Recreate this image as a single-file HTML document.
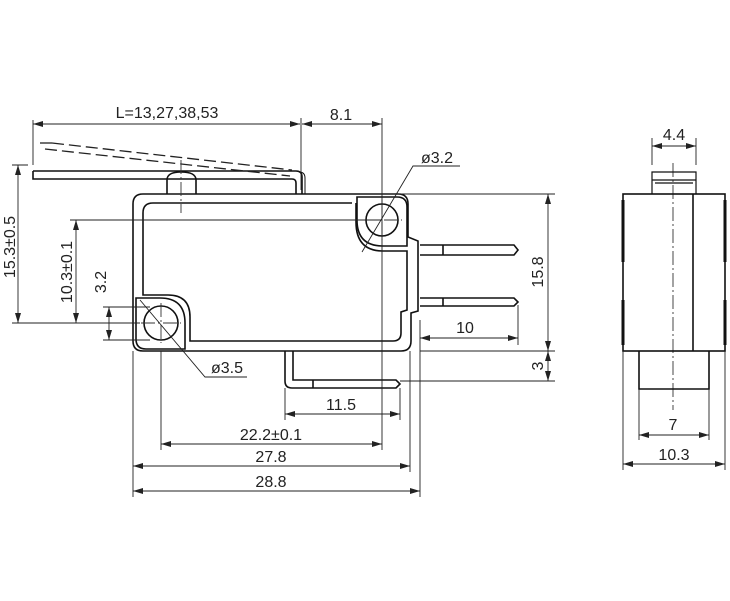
<!DOCTYPE html>
<html><head><meta charset="utf-8"><style>
html,body{margin:0;padding:0;background:#fff;}
svg{display:block;}
text{font-family:"Liberation Sans",sans-serif;font-size:16px;fill:#222;}
</style></head><body>
<svg width="730" height="601" viewBox="0 0 730 601" xmlns="http://www.w3.org/2000/svg">
<defs>
<marker id="a" viewBox="0 0 10 6" refX="10" refY="3" markerWidth="10" markerHeight="6" orient="auto-start-reverse" markerUnits="userSpaceOnUse"><path d="M0,0 L10,3 L0,6 z" fill="#222"/></marker>
</defs>
<g fill="none" stroke="#111" stroke-width="1.6">
<path d="M143,194 H398 Q408,194 408,204 V237 L418,241 V311 L411,313 V341 Q411,351 401,351 H143 Q133,351 133,341 V204 Q133,194 143,194 Z"/>
<path d="M352,203 H153 Q143,203 143,213 V295 H168 Q190,295 190,317 V341 H393 Q401,341 401,333 V312 L407,310 V251 H383 Q356,251 356,222 V203"/>
<path d="M357,197 H397 Q407,197 407,207 V246 H383 Q357,246 357,220 Z"/>
<path d="M136,298 H160 Q185,298 185,323 V349 H146 Q136,349 136,339 Z"/>
<circle cx="382" cy="220" r="16"/>
<circle cx="161" cy="323" r="17"/>
<path d="M167,194 V180 Q167,172 181,172 Q196,172 196,180 V194"/>
<path d="M33,171 H296 Q302,171 302,177 V194 M33,171 V179 H292 Q296,179 296,183 V194"/>
<path d="M299,172 Q305,172 305,178 V194" stroke-width="1"/>
<path d="M420,245 H514 L518,250 L514,255 H420 M443,245 V255"/>
<path d="M420,298 H514 L518,302 L514,306 H420 M443,298 V306"/>
<path d="M285,351 V381 Q285,388 292,388 H396 L400,384 L396,380 H293 V351 M313,380 V388"/>
</g>
<g fill="none" stroke="#222" stroke-width="1.3" stroke-dasharray="12,5">
<path d="M52,143 H40 V148"/>
<path d="M52,143 L292,170"/>
<path d="M45,149 L290,176"/>
</g>
<g stroke="#333" stroke-width="0.9" stroke-dasharray="14,3,2,3" fill="none">
<path d="M181,160 V213"/>
<path d="M362,220 H402 M382,200 V240"/>
<path d="M141,323 H181 M161,303 V343"/>
<path d="M673,163 V410"/>
</g>
<g stroke="#222" stroke-width="0.9" fill="none">
<path d="M33,120 V165 M301,118 V190 M382,118 V450"/>
<path d="M33,124 H300" marker-start="url(#a)" marker-end="url(#a)"/>
<path d="M302,124 H382" marker-start="url(#a)" marker-end="url(#a)"/>
<path d="M362,252 L413,166 H460"/>
<path d="M140,300 L205,377 H247"/>
<path d="M360,194 H555 M420,351 H555 M400,381 H555"/>
<path d="M548,194 V351" marker-start="url(#a)" marker-end="url(#a)"/>
<path d="M548,351 V381" marker-start="url(#a)" marker-end="url(#a)"/>
<path d="M420,320 V497 M518,305 V345"/>
<path d="M420,338 H518" marker-start="url(#a)" marker-end="url(#a)"/>
<path d="M285,388 V420 M400,388 V420"/>
<path d="M285,414 H400" marker-start="url(#a)" marker-end="url(#a)"/>
<path d="M161,351 V450 M133,351 V497 M410,351 V472"/>
<path d="M161,444 H382" marker-start="url(#a)" marker-end="url(#a)"/>
<path d="M133,466 H410" marker-start="url(#a)" marker-end="url(#a)"/>
<path d="M133,491 H420" marker-start="url(#a)" marker-end="url(#a)"/>
<path d="M12,165 H28 M12,323 H140 M70,220 H382 M103,307 H150 M103,340 H150"/>
<path d="M18,165 V323" marker-start="url(#a)" marker-end="url(#a)"/>
<path d="M76,220 V323" marker-start="url(#a)" marker-end="url(#a)"/>
<path d="M109,307 V340" marker-start="url(#a)" marker-end="url(#a)"/>
</g>
<g fill="none" stroke="#111" stroke-width="1.6">
<rect x="623" y="194" width="102" height="157"/>
<path d="M693,194 V351"/>
<path d="M652,194 V172 H696 V194 M652,180 H696 M655,183 H693" stroke-width="1.2"/>
<path d="M639,351 V389 H709 V351"/>
</g>
<path d="M623,200 V262 M623,300 V345 M725,200 V262 M725,300 V345" stroke="#111" stroke-width="3"/>
<g stroke="#222" stroke-width="0.9" fill="none">
<path d="M652,138 V165 M696,138 V165"/>
<path d="M652,146 H696" marker-start="url(#a)" marker-end="url(#a)"/>
<path d="M639,389 V440 M709,389 V440 M623,351 V470 M725,351 V470"/>
<path d="M639,435 H709" marker-start="url(#a)" marker-end="url(#a)"/>
<path d="M623,464 H725" marker-start="url(#a)" marker-end="url(#a)"/>
</g>
<g text-anchor="middle">
<text x="167" y="118">L=13,27,38,53</text>
<text x="341" y="120">8.1</text>
<text x="437" y="163">ø3.2</text>
<text x="227" y="373">ø3.5</text>
<text x="465" y="333">10</text>
<text x="341" y="410">11.5</text>
<text x="271" y="440">22.2±0.1</text>
<text x="271" y="462">27.8</text>
<text x="271" y="487">28.8</text>
<text x="674" y="140">4.4</text>
<text x="673" y="430">7</text>
<text x="674" y="460">10.3</text>
<text transform="translate(543,272) rotate(-90)">15.8</text>
<text transform="translate(543,366) rotate(-90)">3</text>
<text transform="translate(15,247) rotate(-90)">15.3±0.5</text>
<text transform="translate(72,272) rotate(-90)">10.3±0.1</text>
<text transform="translate(106,282) rotate(-90)">3.2</text>
</g>
</svg>
</body></html>
